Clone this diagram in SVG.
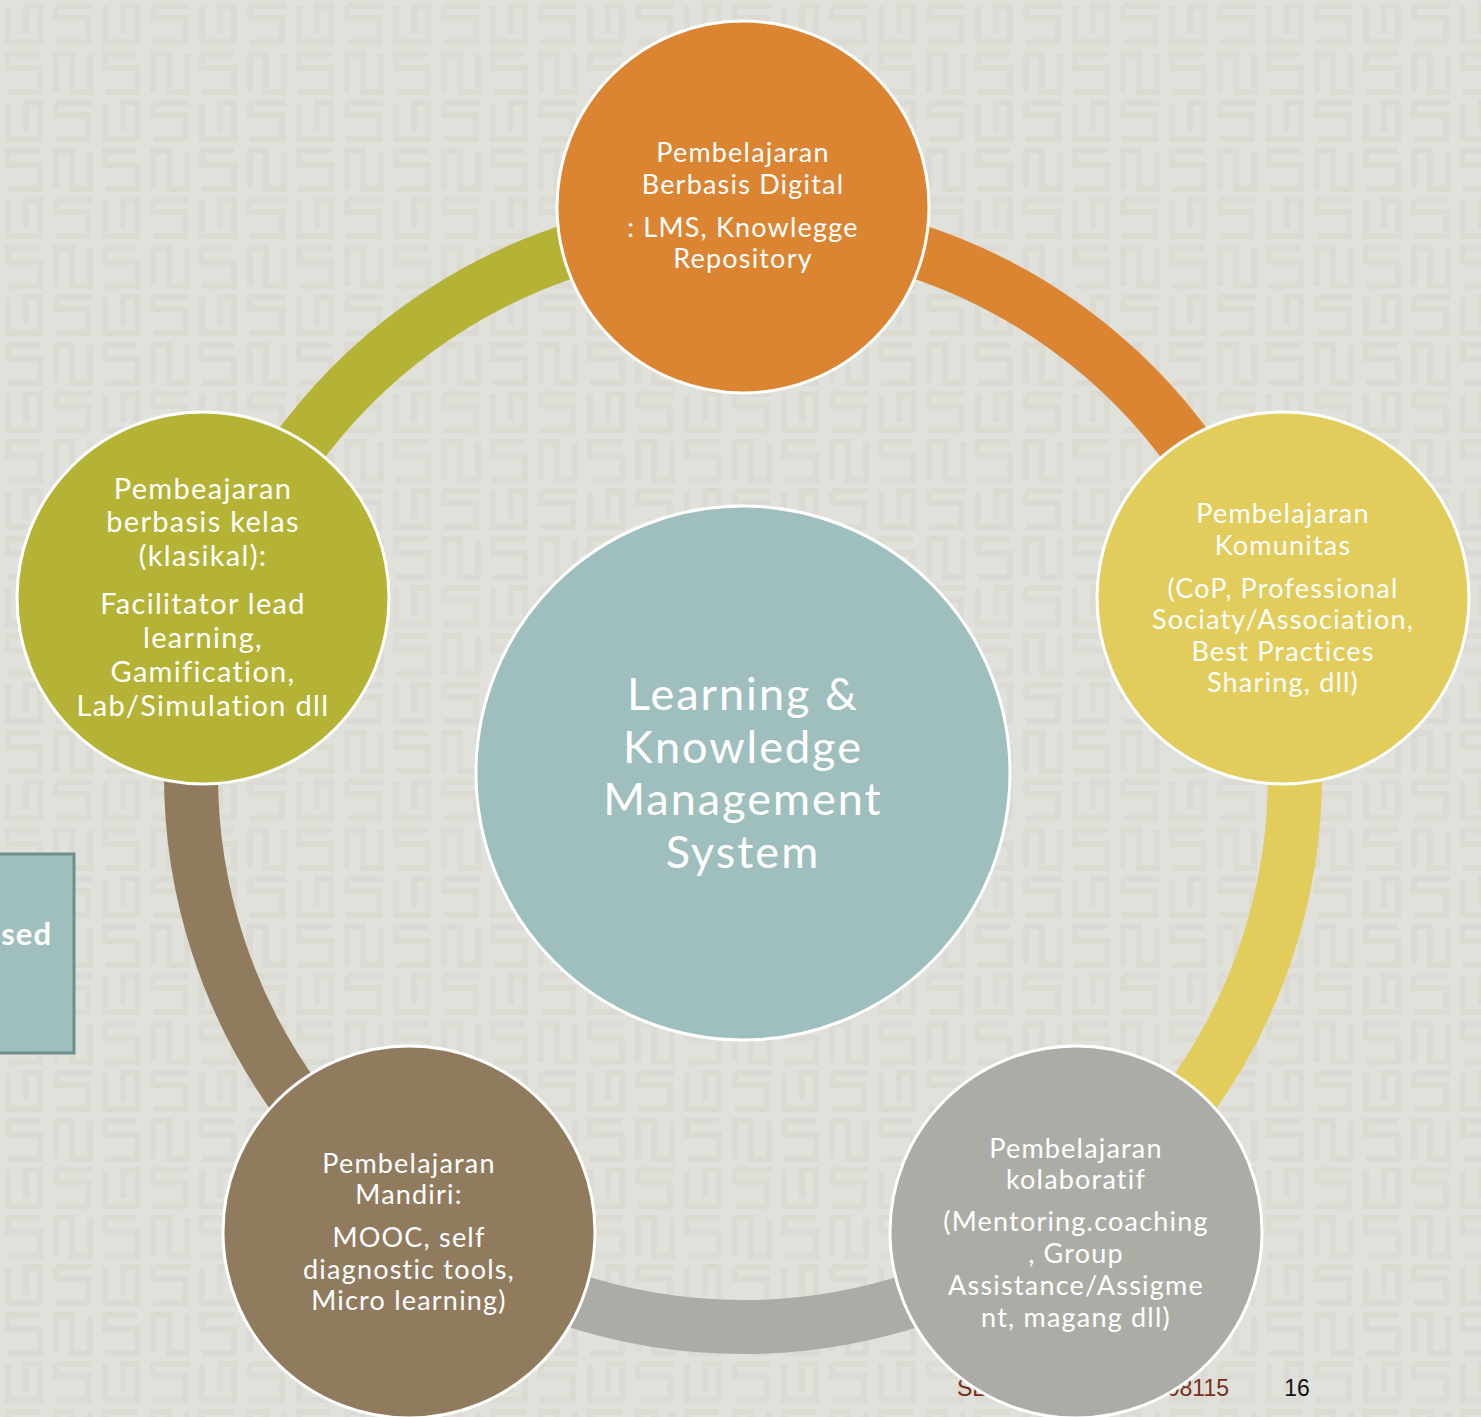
<svg xmlns="http://www.w3.org/2000/svg" width="1481" height="1417" viewBox="0 0 1481 1417">
<style>
.t{font-family:"Lato","Open Sans","DejaVu Sans",sans-serif;fill:#ffffff;text-anchor:middle;font-size:27px;letter-spacing:1.2px}
.l{font-size:29px;letter-spacing:1.3px}
.big{font-size:45px;letter-spacing:2px}
.node{stroke:#ffffff;stroke-width:3}
.arc{fill:none;stroke-width:54}
.foot{font-family:"Liberation Sans Narrow","Liberation Sans",sans-serif;font-size:23px}
</style>
<defs>
<pattern id="bg" width="97" height="97" patternUnits="userSpaceOnUse">
<rect width="97" height="97" fill="#e1e1db"/>
<g fill="none" stroke="#dbdbd4" stroke-width="6">
<path d="M8,6 V42 H40 V6 H26 V34"/>
<path d="M56,6 H92 M56,6 V18 H88 V42 H56"/>
<path d="M40,54 H8 V68 H40 V92 H8"/>
<path d="M56,92 V54 H72 V92 H90 V54"/>
</g>
</pattern>
</defs>
<rect x="0" y="0" width="1481" height="1417" fill="url(#bg)"/>

<g id="side-box">
<rect x="-10" y="854" width="84" height="199" fill="#9fbfbe" stroke="#6f8e8d" stroke-width="3"/>
<text x="52" y="945" text-anchor="end" style="font-family:'Lato','Open Sans',sans-serif;font-weight:bold;font-size:31px;letter-spacing:1px;fill:#ffffff">sed</text>
</g>

<g id="footer">
<text class="foot" x="957" y="1396" fill="#7a2e1a">SE</text>
<text class="foot" x="1229" y="1396" fill="#7a2e1a" text-anchor="end">708115</text>
<text class="foot" x="1297" y="1396" fill="#111111" text-anchor="middle">16</text>
</g>

<g id="connectors">
<path class="arc" stroke="#db8532" d="M743,223 A552,552 0 0 1 1268,604.4"/>
<path class="arc" stroke="#e2cc5b" d="M1268,604.4 A552,552 0 0 1 1067.5,1221.6"/>
<path class="arc" stroke="#acaca6" d="M1067.5,1221.6 A552,552 0 0 1 418.5,1221.6"/>
<path class="arc" stroke="#917b5f" d="M418.5,1221.6 A552,552 0 0 1 218,604.4"/>
<path class="arc" stroke="#b5b336" d="M218,604.4 A552,552 0 0 1 743,223"/>
</g>

<g id="center">
<circle class="node" cx="743" cy="773" r="267" fill="#9fbfbe"/>
<text class="t big" x="743" y="710">Learning &amp;</text>
<text class="t big" x="743" y="763">Knowledge</text>
<text class="t big" x="743" y="815">Management</text>
<text class="t big" x="743" y="868">System</text>
</g>

<g id="node-top">
<circle class="node" cx="743" cy="207" r="186" fill="#db8532"/>
<text class="t" x="743" y="162">Pembelajaran</text>
<text class="t" x="743" y="194">Berbasis Digital</text>
<text class="t" x="743" y="237">: LMS, Knowlegge</text>
<text class="t" x="743" y="268">Repository</text>
</g>

<g id="node-right">
<circle class="node" cx="1283" cy="598" r="186" fill="#e2cc5b"/>
<text class="t" x="1283" y="523">Pembelajaran</text>
<text class="t" x="1283" y="555">Komunitas</text>
<text class="t" x="1283" y="598">(CoP, Professional</text>
<text class="t" x="1283" y="629">Sociaty/Association,</text>
<text class="t" x="1283" y="661">Best Practices</text>
<text class="t" x="1283" y="692">Sharing, dll)</text>
</g>

<g id="node-bottom-right">
<circle class="node" cx="1076" cy="1232" r="186" fill="#acaca6"/>
<text class="t" x="1076" y="1158">Pembelajaran</text>
<text class="t" x="1076" y="1189">kolaboratif</text>
<text class="t" x="1076" y="1231">(Mentoring.coaching</text>
<text class="t" x="1076" y="1263">, Group</text>
<text class="t" x="1076" y="1295">Assistance/Assigme</text>
<text class="t" x="1076" y="1327">nt, magang dll)</text>
</g>

<g id="node-bottom-left">
<circle class="node" cx="409" cy="1232" r="186" fill="#917b5f"/>
<text class="t" x="409" y="1173">Pembelajaran</text>
<text class="t" x="409" y="1204">Mandiri:</text>
<text class="t" x="409" y="1247">MOOC, self</text>
<text class="t" x="409" y="1279">diagnostic tools,</text>
<text class="t" x="409" y="1310">Micro learning)</text>
</g>

<g id="node-left">
<circle class="node" cx="203" cy="598" r="186" fill="#b5b336"/>
<text class="t l" x="203" y="499">Pembeajaran</text>
<text class="t l" x="203" y="532">berbasis kelas</text>
<text class="t l" x="203" y="566">(klasikal):</text>
<text class="t l" x="203" y="614">Facilitator lead</text>
<text class="t l" x="203" y="648">learning,</text>
<text class="t l" x="203" y="682">Gamification,</text>
<text class="t l" x="203" y="716">Lab/Simulation dll</text>
</g>
</svg>
